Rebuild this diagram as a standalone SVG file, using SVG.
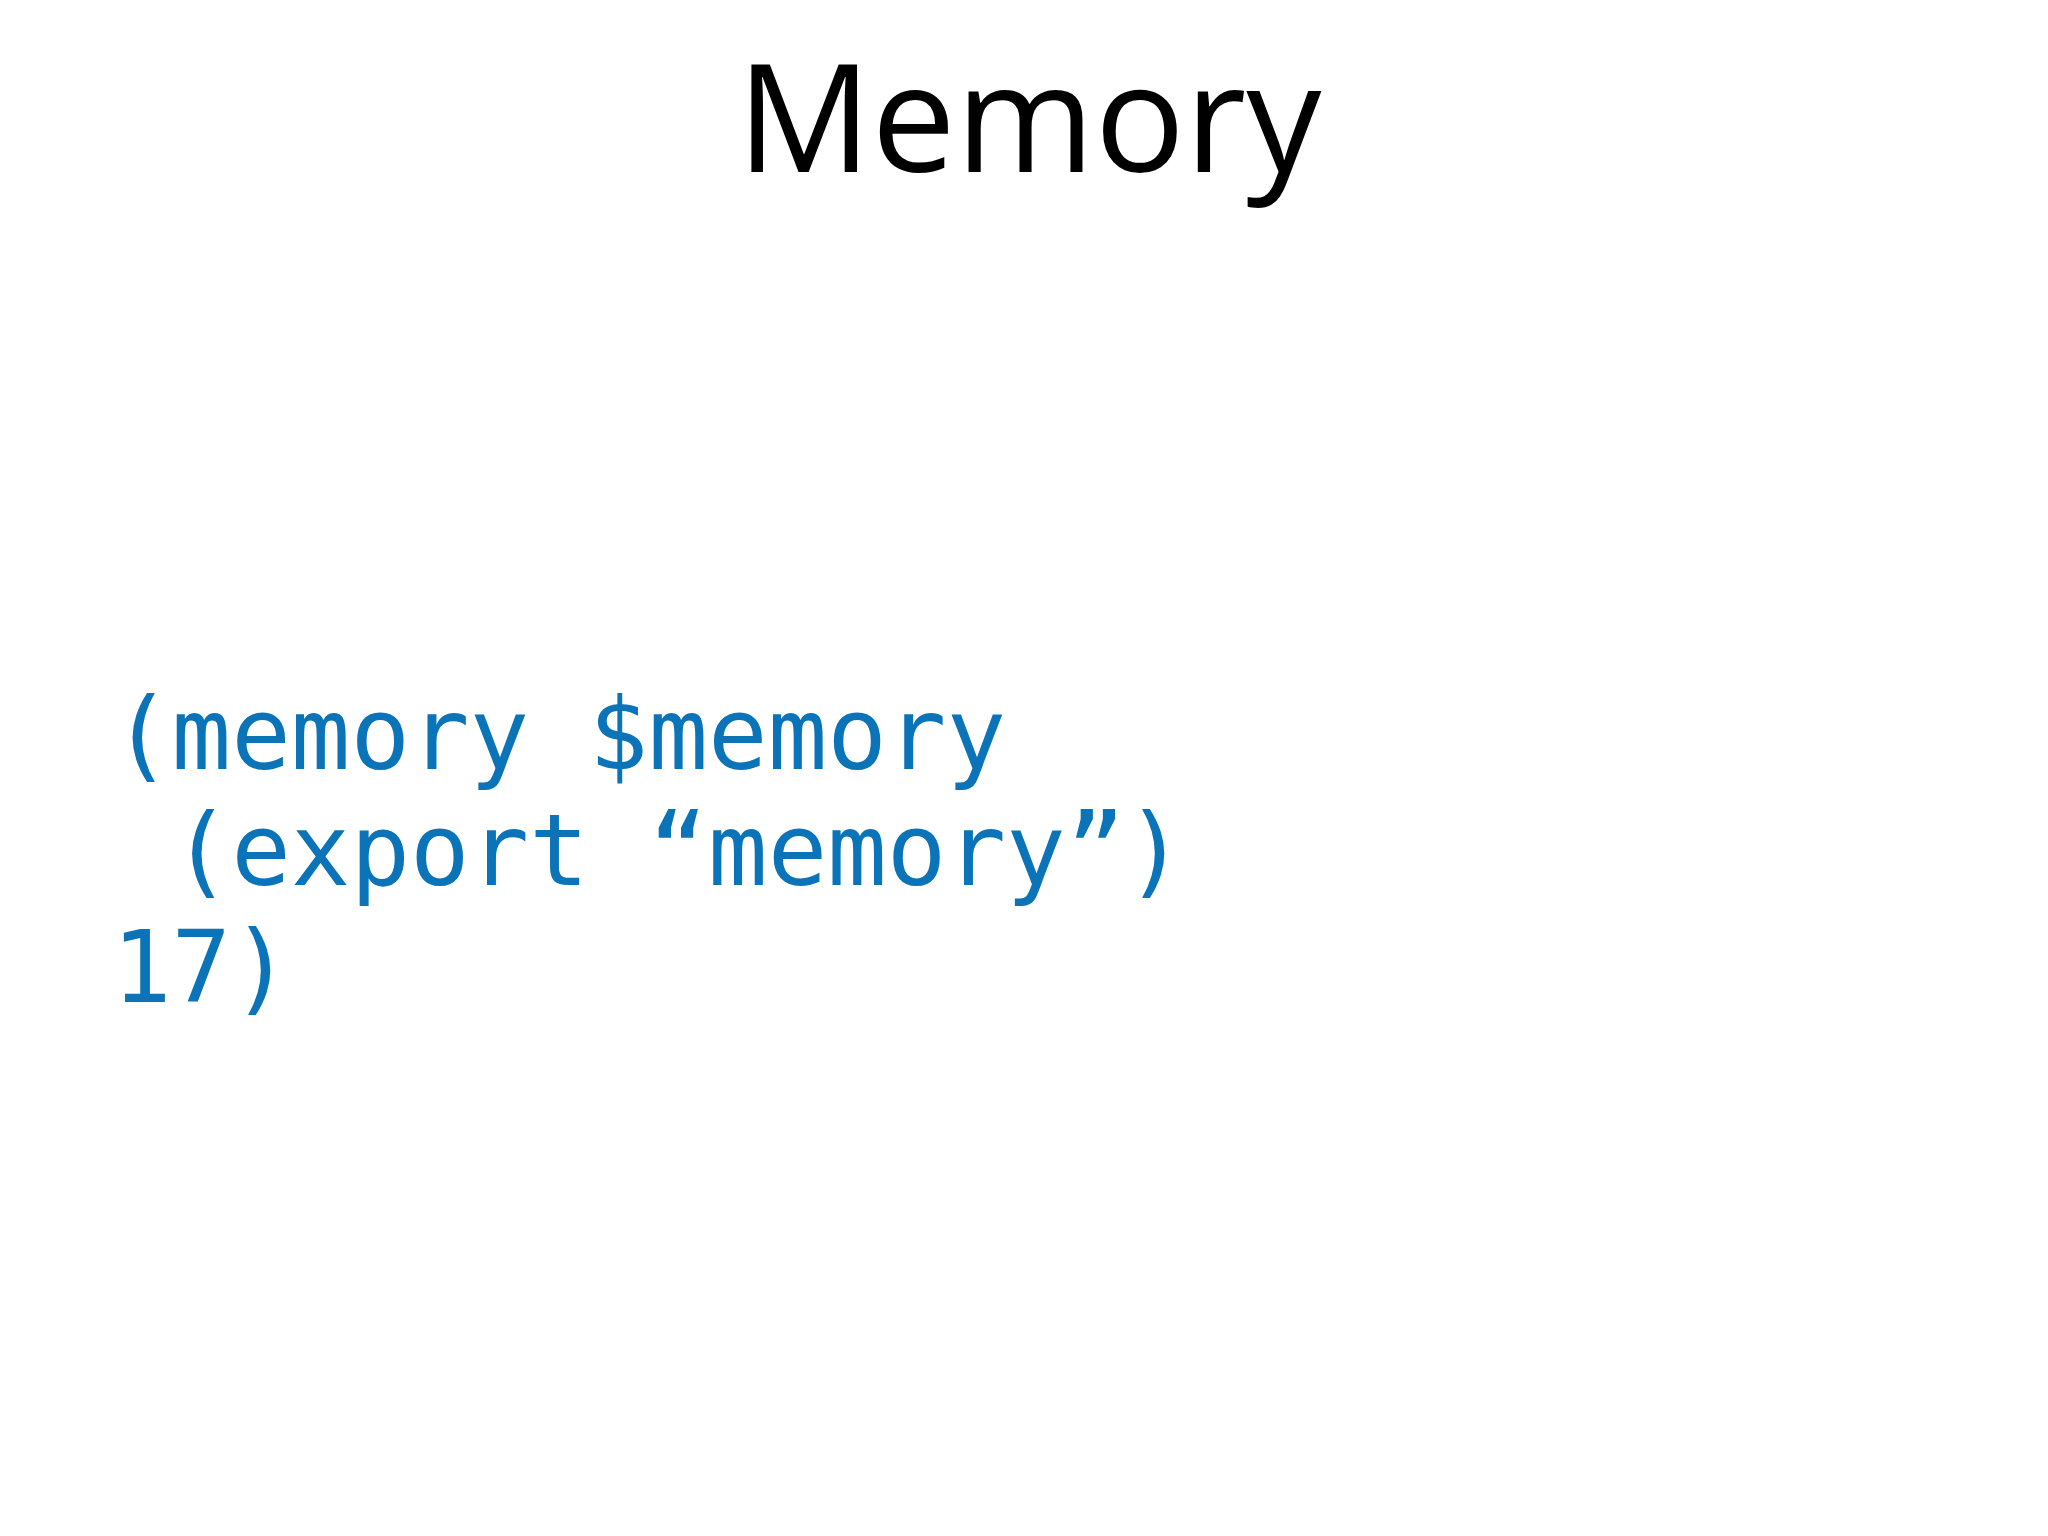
<svg xmlns="http://www.w3.org/2000/svg" width="2048" height="1536" viewBox="0 0 2048 1536">
<style>
.title{font-family:"Open Sans","Noto Sans",sans-serif;font-size:150px;fill:#000}
.code{font-family:"DejaVu Sans Mono",monospace;font-size:99px;fill:#0b74b8;white-space:pre}
</style>
<rect width="2048" height="1536" fill="#fff"/>
<g id="title"><text class="title" x="1029" y="172" text-anchor="middle">Memory</text></g>
<g id="code">
<text class="code" x="112" y="769" xml:space="preserve">(memory $memory</text>
<text class="code" x="112" y="885" xml:space="preserve"> (export “memory”)</text>
<text class="code" x="112" y="1002" xml:space="preserve">17)</text>
</g>
</svg>
